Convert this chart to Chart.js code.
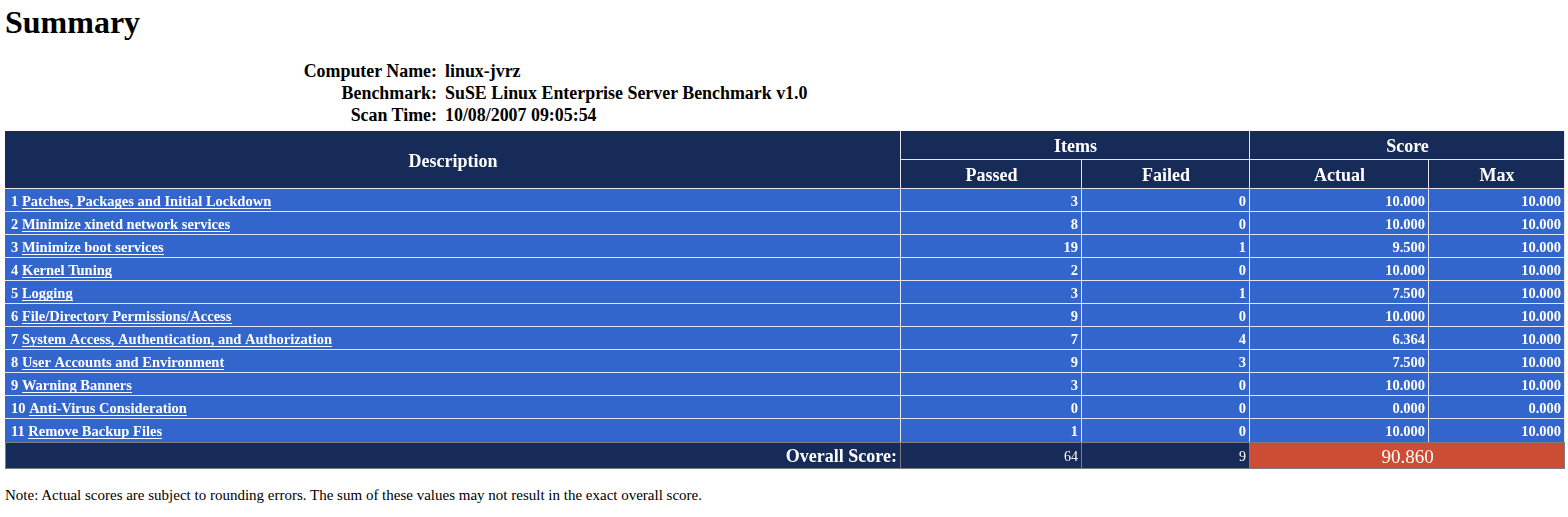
<!DOCTYPE html>
<html>
<head>
<meta charset="utf-8">
<title>Summary</title>
<script src="https://cdn.jsdelivr.net/npm/chart.js@4/dist/chart.umd.min.js"></script>
<style>
    body { margin: 0; background: #fff; font-family: "Liberation Serif", "Times New Roman", serif; width: 1568px; height: 517px; position: relative; overflow: hidden; }
    #title { position: absolute; left: 5px; top: 4px; font-size: 32px; font-weight: bold; line-height: normal; }
    .info { position: absolute; top: 60px; font-size: 17.9px; font-weight: bold; line-height: 22px; white-space: nowrap; }
    #infoLabels { right: 1131px; text-align: right; }
    #infoValues { left: 445px; }
    #note { position: absolute; left: 5px; top: 487px; font-family: "Liberation Serif", serif; font-size: 15px; line-height: normal; white-space: nowrap; }
    canvas { position: absolute; left: 5px; }
    #headerTable { top: 131px; }
    #bodyTable { top: 189px; }
    #overallTable { top: 442px; }
</style>
</head>
<body>
<div id="title">Summary</div>
<div class="info" id="infoLabels"></div>
<div class="info" id="infoValues"></div>
<canvas id="headerTable" width="1560" height="58"></canvas>
<canvas id="bodyTable" width="1560" height="253"></canvas>
<canvas id="overallTable" width="1560" height="27"></canvas>
<div id="note"></div>
<script>
// Report values
const infoLabels = ['Computer Name:', 'Benchmark:', 'Scan Time:'];
const infoValues = ['linux-jvrz', 'SuSE Linux Enterprise Server Benchmark v1.0', '10/08/2007 09:05:54'];

const sectionNames = [
    'Patches, Packages and Initial Lockdown',
    'Minimize xinetd network services',
    'Minimize boot services',
    'Kernel Tuning',
    'Logging',
    'File/Directory Permissions/Access',
    'System Access, Authentication, and Authorization',
    'User Accounts and Environment',
    'Warning Banners',
    'Anti-Virus Consideration',
    'Remove Backup Files'
];
const passed = [3, 8, 19, 2, 3, 9, 7, 9, 3, 0, 1];
const failed = [0, 0, 1, 0, 1, 0, 4, 3, 0, 0, 0];
const actual = [10, 10, 9.5, 10, 7.5, 10, 6.364, 7.5, 10, 0, 10];
const maxScore = [10, 10, 10, 10, 10, 10, 10, 10, 10, 0, 10];

const headerGroups = ['Description', 'Items', 'Score'];
const headerCols = ['Passed', 'Failed', 'Actual', 'Max'];

const overallLabel = 'Overall Score:';
const totalPassed = 64;
const totalFailed = 9;
const overallScore = 90.860;

const noteText = 'Note: Actual scores are subject to rounding errors. The sum of these values may not result in the exact overall score.';

// Layout / style
const colWidths = [896, 181, 168, 179, 136];
const tableWidth = colWidths.reduce((a, b) => a + b, 0);
const NAVY = '#172b59';
const BLUE = '#3366cc';
const ORANGE = '#cc4d33';
const LINE = '#e6e6ee';
const GREY = '#7c7c7c';
const FONT = '"Liberation Serif", "Times New Roman", serif';

document.getElementById('infoLabels').innerHTML = infoLabels.join('<br>');
document.getElementById('infoValues').innerHTML = infoValues.join('<br>');
document.getElementById('note').textContent = noteText;

// draws the text of each cell on top of its bar
function cellTextPlugin(textFor) {
    return {
        id: 'cellText',
        afterDatasetsDraw(chart) {
            const ctx = chart.ctx;
            ctx.save();
            ctx.fillStyle = '#fff';
            ctx.textBaseline = 'alphabetic';
            chart.data.datasets.forEach((ds, di) => {
                chart.getDatasetMeta(di).data.forEach((bar, ri) => {
                    if (ds.data[ri] === null) return;
                    const cell = textFor(di, ri, bar);
                    if (!cell) return;
                    const left = Math.min(bar.base, bar.x);
                    const right = Math.max(bar.base, bar.x);
                    const cy = cell.y !== undefined ? cell.y : bar.y;
                    const base = Math.round(cy + cell.size * 0.33) + 1;
                    ctx.font = `${cell.weight || 'bold'} ${cell.size}px ${FONT}`;
                    const prefix = cell.prefix || '';
                    const total = ctx.measureText(prefix + cell.text).width;
                    let x;
                    if (cell.align === 'left') x = left + 6;
                    else if (cell.align === 'right') x = right - 4 - total;
                    else x = (left + right) / 2 - total / 2;
                    ctx.textAlign = 'left';
                    if (prefix) {
                        ctx.fillText(prefix, x, base);
                        x += ctx.measureText(prefix).width;
                    }
                    ctx.fillText(cell.text, x, base);
                    if (cell.underline) {
                        ctx.fillRect(Math.round(x), base + 2, Math.round(ctx.measureText(cell.text).width), 1);
                    }
                });
            });
            ctx.restore();
        }
    };
}

function makeTable(canvasId, rows, datasets, textFor) {
    return new Chart(document.getElementById(canvasId), {
        type: 'bar',
        data: { labels: rows, datasets: datasets },
        options: {
            indexAxis: 'y',
            responsive: false,
            animation: false,
            events: [],
            layout: { padding: 0 },
            datasets: {
                bar: { barPercentage: 1, categoryPercentage: 1, borderSkipped: false, inflateAmount: 0 }
            },
            scales: {
                x: { stacked: true, display: false, min: 0, max: tableWidth },
                y: { stacked: true, display: false }
            },
            plugins: { legend: { display: false }, tooltip: { enabled: false } }
        },
        plugins: [cellTextPlugin(textFor)]
    });
}

// Header: group row and column row, Description spans both
makeTable('headerTable', ['groups', 'columns'], [
    { data: [colWidths[0], colWidths[0]], backgroundColor: NAVY, borderColor: LINE,
      borderWidth: ctx => ({ top: 0, left: 0, right: 1, bottom: ctx.dataIndex === 0 ? 0 : 1 }) },
    { data: [colWidths[1] + colWidths[2], colWidths[1]], backgroundColor: NAVY, borderColor: LINE,
      borderWidth: { top: 0, left: 0, right: 1, bottom: 1 } },
    { data: [colWidths[3] + colWidths[4], colWidths[2]], backgroundColor: NAVY, borderColor: LINE,
      borderWidth: { top: 0, left: 0, right: 1, bottom: 1 } },
    { data: [null, colWidths[3]], backgroundColor: NAVY, borderColor: LINE,
      borderWidth: { top: 0, left: 0, right: 1, bottom: 1 } },
    { data: [null, colWidths[4]], backgroundColor: NAVY, borderColor: LINE,
      borderWidth: { top: 0, left: 0, right: 1, bottom: 1 } }
], (di, ri, bar) => {
    if (di === 0) {
        return ri === 0 ? { text: headerGroups[0], align: 'center', size: 18, y: bar.y + bar.height / 2 } : null;
    }
    if (ri === 0) return { text: headerGroups[di], align: 'center', size: 18 };
    return { text: headerCols[di - 1], align: 'center', size: 18 };
});

// Body rows
const lastRow = sectionNames.length - 1;
makeTable('bodyTable', sectionNames, colWidths.map(w => ({
    data: sectionNames.map(() => w),
    backgroundColor: BLUE,
    borderColor: LINE,
    borderWidth: ctx => ({ top: 0, left: 0, right: 1, bottom: ctx.dataIndex === lastRow ? 0 : 1 })
})), (di, ri) => {
    const size = 14.5;
    switch (di) {
        case 0: return { prefix: (ri + 1) + ' ', text: sectionNames[ri], underline: true, align: 'left', size };
        case 1: return { text: String(passed[ri]), align: 'right', size };
        case 2: return { text: String(failed[ri]), align: 'right', size };
        case 3: return { text: actual[ri].toFixed(3), align: 'right', size };
        default: return { text: maxScore[ri].toFixed(3), align: 'right', size };
    }
});

// Overall score row
makeTable('overallTable', ['overall'], [
    { data: [colWidths[0]], backgroundColor: NAVY },
    { data: [colWidths[1]], backgroundColor: NAVY },
    { data: [colWidths[2]], backgroundColor: NAVY },
    { data: [colWidths[3] + colWidths[4]], backgroundColor: ORANGE }
].map((ds, di) => Object.assign(ds, {
    borderColor: GREY,
    borderWidth: { top: 1, bottom: 1, right: 1, left: di === 0 ? 1 : 0 }
})), (di) => {
    switch (di) {
        case 0: return { text: overallLabel, align: 'right', size: 18 };
        case 1: return { text: String(totalPassed), align: 'right', size: 14, weight: 'normal' };
        case 2: return { text: String(totalFailed), align: 'right', size: 14, weight: 'normal' };
        default: return { text: overallScore.toFixed(3), align: 'center', size: 19, weight: 'normal' };
    }
});
</script>
</body>
</html>
